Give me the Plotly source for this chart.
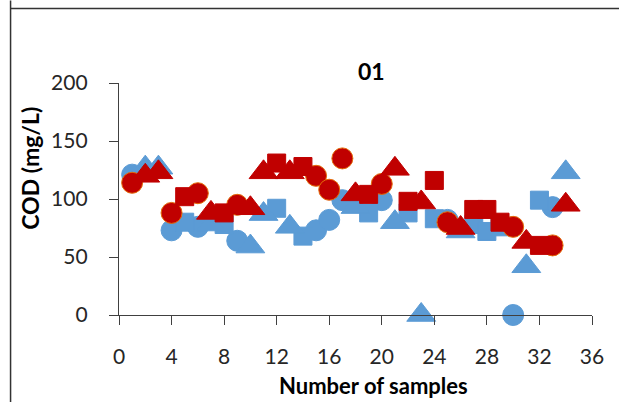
import plotly.graph_objects as go

samples = list(range(1, 35))
shapes = ["c", "t", "t", "c", "s", "c", "t", "s", "c", "t",
          "t", "s", "t", "s", "c", "c", "c", "t", "s", "c",
          "t", "s", "t", "s", "c", "t", "s", "s", "s", "c",
          "t", "s", "c", "t"]
blue_cod = [121, 127, 127, 73, 80, 76, 78, 78, 64, 59,
            87, 92, 76, 68, 73, 82, 99, 93, 88, 99,
            80, 88, 0, 83, 82, 72, 78, 72, 76, 0,
            42, 99, 93, 123]
red_cod = [114, 120, 123, 88, 102, 105, 88, 88, 95, 92,
           123, 131, 123, 128, 120, 108, 135, 104, 104, 113,
           126, 98, 97, 116, 80, 75, 91, 91, 80, 76,
           63, 60, 60, 95]
x_ticks = [0, 4, 8, 12, 16, 20, 24, 28, 32, 36]
y_ticks = [0, 50, 100, 150, 200]

BLUE = "#5B9BD5"
RED = "#C00000"
FONT = "Lato"

W, H = 619, 402
L, R, T, B = 119.3, 591.7, 82.7, 315.0

symbol_map = {"c": ("circle", 21), "s": ("square", 18), "t": ("triangle-up", 25)}

fig = go.Figure()
for vals, color, edge in [(blue_cod, BLUE, BLUE), (red_cod, RED, "#E46C0A")]:
    for key in ["c", "s", "t"]:
        sym, size = symbol_map[key]
        xs = [s for s, k in zip(samples, shapes) if k == key]
        ys = [v for v, k in zip(vals, shapes) if k == key]
        fig.add_trace(go.Scatter(
            x=xs, y=ys, mode="markers", cliponaxis=False, showlegend=False,
            marker=dict(symbol=sym, size=size, color=color,
                        line=dict(color=edge if key == "c" else color, width=1)),
        ))

def px_x(px):
    return (px - L) / (R - L)

def px_y(py):
    return (B - py) / (B - T)

fig.update_layout(
    width=W, height=H,
    margin=dict(l=L, r=W - R, t=T, b=H - B, pad=0),
    paper_bgcolor="white", plot_bgcolor="white",
    font=dict(family=FONT, color="#262626"),
    showlegend=False,
    xaxis=dict(range=[0, 36], tickvals=x_ticks, showgrid=False, zeroline=False,
               showline=True, linecolor="#404040", linewidth=1.3,
               ticks="outside", ticklen=9, tickcolor="#404040", tickwidth=1.3,
               tickfont=dict(size=21, family=FONT, color="#262626"),
               ticklabelstandoff=14),
    yaxis=dict(range=[0, 200], tickvals=y_ticks, showgrid=False, zeroline=False,
               showline=True, linecolor="#404040", linewidth=1.3,
               ticks="outside", ticklen=9, tickcolor="#404040", tickwidth=1.3,
               tickfont=dict(size=21, family=FONT, color="#262626"),
               ticklabelstandoff=17),
    annotations=[
        dict(text="<b>01</b>", x=px_x(371), y=px_y(71), xref="paper", yref="paper",
             showarrow=False, font=dict(size=23, family=FONT, color="#000000"),
             xanchor="center", yanchor="middle"),
        dict(text="<b>Number of samples</b>", x=px_x(373), y=px_y(386), xref="paper", yref="paper",
             showarrow=False, font=dict(size=22, family=FONT, color="#000000"),
             xanchor="center", yanchor="middle"),
        dict(text="<b>COD (mg/L)</b>", x=px_x(31), y=px_y(168), xref="paper", yref="paper",
             showarrow=False, textangle=-90, font=dict(size=23, family=FONT, color="#000000"),
             xanchor="center", yanchor="middle"),
    ],
    shapes=[
        dict(type="line", xref="paper", yref="paper", x0=px_x(11), x1=px_x(11),
             y0=px_y(0), y1=px_y(402), line=dict(color="#333333", width=1.5)),
        dict(type="line", xref="paper", yref="paper", x0=px_x(11), x1=px_x(619),
             y0=px_y(8), y1=px_y(8), line=dict(color="#333333", width=1.5)),
    ],
)

fig.write_html("out.html")
